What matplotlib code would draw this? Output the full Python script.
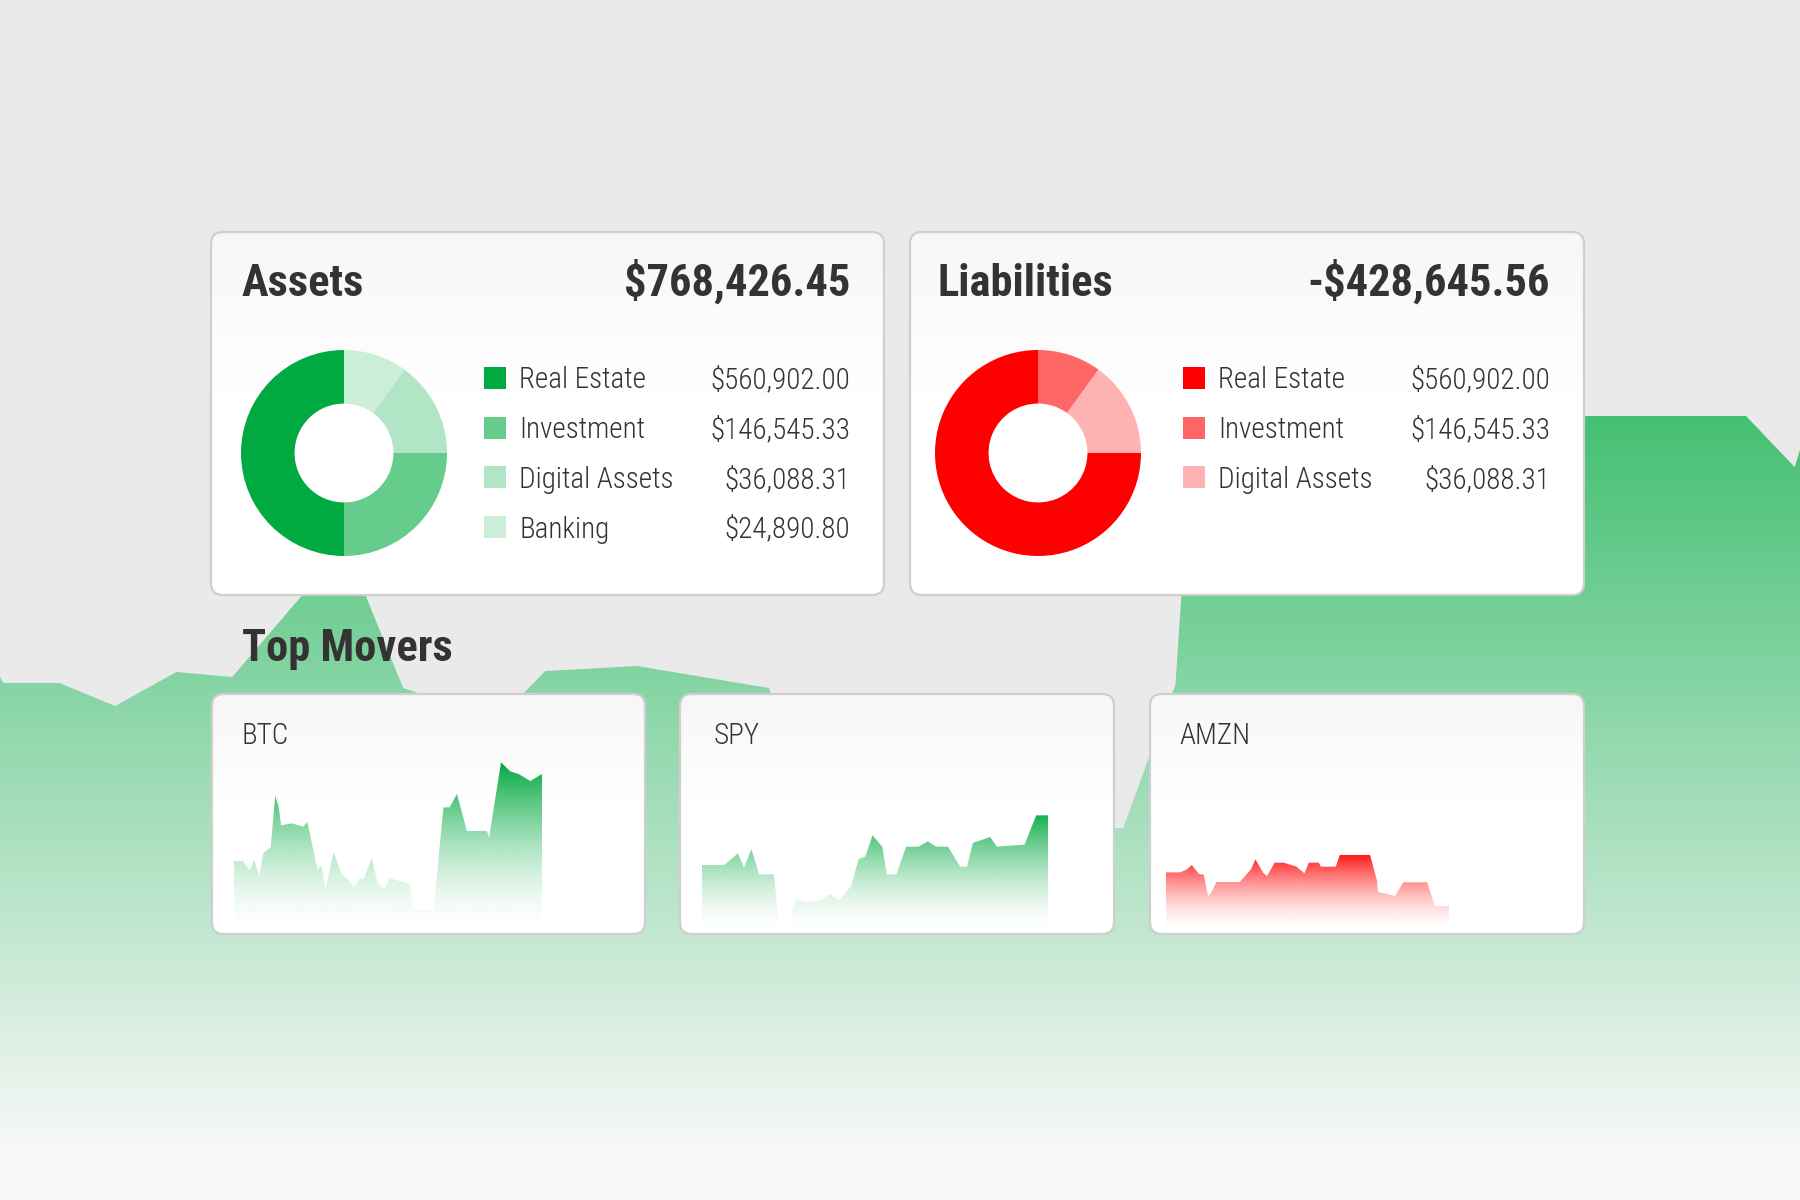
import numpy as np
import matplotlib
matplotlib.use("Agg")
import matplotlib.pyplot as plt
from matplotlib.patches import FancyBboxPatch, Rectangle
from matplotlib.colors import to_rgb

plt.rcParams['font.family'] = ['Roboto Condensed', 'DejaVu Sans']

# ---- data ----
asset_total = "$768,426.45"
asset_labels = ["Real Estate", "Investment", "Digital Assets", "Banking"]
asset_amounts = ["$560,902.00", "$146,545.33", "$36,088.31", "$24,890.80"]
asset_share = [50, 25, 15, 10]
asset_colors = ["#00aa40", "#66cc8c", "#b2e5c5", "#cbeed9"]

liab_total = "-$428,645.56"
liab_labels = ["Real Estate", "Investment", "Digital Assets"]
liab_amounts = ["$560,902.00", "$146,545.33", "$36,088.31"]
liab_share = [75, 10, 15]
liab_colors = ["#ff0000", "#ff6666", "#ffb2b2"]

tickers = ["BTC", "SPY", "AMZN"]
btc_t = [0, 2.8, 5.2, 6.5, 8.2, 9.5, 11.9, 13.4, 14.5, 15.3, 18.7, 22.5, 23.8, 27.1, 28.4, 29.7,
         32.3, 35.0, 37.2, 39.0, 40.7, 42.0, 44.7, 46.7, 48.8, 50.7, 57.2, 57.9, 64.8, 68.0, 70.0,
         72.4, 75.6, 82.1, 82.8, 86.7, 89.7, 92.4, 96.2, 100]
btc_v = [207, 207, 178, 212, 162, 230, 248, 403, 370, 314, 320, 310, 325, 182, 192, 122,
         233, 166, 150, 128, 155, 152, 215, 140, 122, 155, 138, 60, 60, 368, 368,
         408, 297, 297, 277, 503, 476, 468, 447, 468]
spy_t = [0, 6.4, 10.4, 12.1, 14.3, 16.5, 20.8, 22.3, 25.7, 26.9, 29.8, 34.4, 36.8, 39.6, 43.0,
         45.3, 47.2, 49.3, 52.1, 53.4, 56.2, 59.0, 62.6, 65.3, 67.6, 71.1, 74.6, 76.6, 78.3,
         83.3, 85.2, 93.2, 96.6, 100]
spy_v = [195, 195, 230, 187, 242, 167, 167, 5, 33, 94, 84, 89, 107, 90, 130,
         213, 220, 284, 250, 167, 167, 250, 250, 266, 250, 250, 190, 190, 261,
         279, 250, 256, 344, 344]
amzn_t = [0, 5.1, 7.4, 9.1, 11.7, 13.3, 14.9, 16.0, 17.8, 26.1, 30.1, 31.6, 34.3, 35.7, 38.4,
          41.6, 46.1, 48.9, 50.5, 54.0, 54.7, 60.0, 61.4, 72.1, 74.6, 74.9, 81.0, 83.8, 92.3,
          95.0, 100]
amzn_v = [173, 173, 182, 195, 168, 166, 102, 113, 144, 144, 183, 212, 172, 162, 202,
          202, 190, 170, 202, 202, 190, 190, 225, 225, 147, 114, 102, 143, 143,
          72, 72]
spark_t = [btc_t, spy_t, amzn_t]
spark_v = [btc_v, spy_v, amzn_v]
spark_colors = ["#00aa40", "#14b050", "#ff1a1a"]

# background net-worth curve
bg_t = [0, 0.2, 3.3, 6.4, 9.8, 12.9, 16.8, 17.8, 19.4, 20.3, 22.4, 23.2, 26.1, 29.1, 30.3,
        35.4, 42.7, 44.4, 55.6, 61.9, 62.4, 65.3, 66.3, 97.0, 99.7, 100]
bg_v = [523, 517, 517, 494, 528, 523, 605, 640, 640, 605, 512, 507, 460, 507, 529,
        534, 512, 440, 410, 372, 372, 515, 784, 784, 733, 750]

W, H = 1800, 1200
TXT = "#333333"
fig = plt.figure(figsize=(18, 12), dpi=100)
fig.patch.set_facecolor("#eaeaea")


def px_axes(x0, y0, x1, y1, z):
    ax = fig.add_axes([x0 / W, 1 - y1 / H, (x1 - x0) / W, (y1 - y0) / H], zorder=z)
    ax.set_axis_off()
    ax.patch.set_visible(False)
    return ax


def gradient_fill(ax, t, v, color, top, bottom_color=None, lo=0.0, power=1.0):
    poly = ax.fill(list(t) + [t[-1], t[0]], list(v) + [0, 0], color="none", lw=0)[0]
    n = 400
    frac = np.linspace(0, 1, n)[:, None]
    g = np.clip((frac * top - lo) / (top - lo), 0, 1) ** power
    rgb = np.array(to_rgb(color))
    if bottom_color is None:
        img = np.zeros((n, 1, 4))
        img[..., :3] = rgb
        img[..., 3] = g
    else:
        b = np.array(to_rgb(bottom_color))
        img = b + g[..., None] * (rgb - b)
    im = ax.imshow(img, extent=[min(t), max(t), 0, top], origin="lower",
                   aspect="auto", interpolation="bilinear")
    im.set_clip_path(poly)


# ---- background area chart ----
bg = px_axes(0, 0, W, H, 0)
gradient_fill(bg, bg_t, bg_v, "#44c073", max(bg_v), bottom_color="#f8f8f8", lo=50)
bg.set_xlim(0, 100)
bg.set_ylim(0, 1200)

# ---- overlay for cards and text ----
ov = px_axes(0, 0, W, H, 1)


def card(x0, y0, x1, y1):
    box = FancyBboxPatch((x0, y0), x1 - x0, y1 - y0, boxstyle="round,pad=0,rounding_size=12",
                         fc="white", ec="none", zorder=2)
    ov.add_patch(box)
    g = np.linspace(0, 1, 200)[:, None]
    shade = 0.968 + 0.032 * np.clip(g / 0.45, 0, 1)
    im = ov.imshow(np.dstack([shade] * 3), extent=[x0, x1, y1, y0], aspect="auto",
                   zorder=2.1, interpolation="bilinear")
    im.set_clip_path(box)
    ov.add_patch(FancyBboxPatch((x0, y0), x1 - x0, y1 - y0, boxstyle="round,pad=0,rounding_size=12",
                                fc="none", ec="#cfcfcf", lw=1.6, zorder=2.2))


def summary(x0, x1, tx, cx, title, total, labels, amounts, colors, share, start, reverse):
    card(x0, 232, x1, 595)
    ov.text(tx, 296, title, fontsize=32, weight="bold", color=TXT, va="baseline", zorder=3)
    ov.text(x1 - 34, 296, total, fontsize=32, weight="bold", color=TXT, va="baseline",
            ha="right", zorder=3)
    for i, (lab, amt, col) in enumerate(zip(labels, amounts, colors)):
        yc = 378 + i * 49.7
        ov.add_patch(Rectangle((x0 + 273, yc - 11), 22, 22, fc=col, ec="none", zorder=3))
        ov.text(x0 + 308, yc + 10.5, lab, fontsize=21, weight=300, color=TXT, va="baseline", zorder=3)
        ov.text(x1 - 34, yc + 10.5, amt, fontsize=21, weight=300, color=TXT, va="baseline",
                ha="right", zorder=3)
    r = 103
    dax = px_axes(cx - r, 453 - r, cx + r, 453 + r, 2)
    vals, cols = (share[::-1], colors[::-1]) if reverse else (share, colors)
    dax.pie(vals, colors=cols, startangle=start, counterclock=False, radius=1,
            wedgeprops=dict(width=0.52, linewidth=0))
    dax.set_xlim(-1, 1)
    dax.set_ylim(-1, 1)


summary(211, 884, 242, 344, "Assets", asset_total, asset_labels, asset_amounts, asset_colors,
        asset_share, 90, True)
summary(910, 1584, 937, 1038, "Liabilities", liab_total, liab_labels, liab_amounts, liab_colors,
        liab_share, 0, False)

ov.text(242, 661, "Top Movers", fontsize=32, weight="bold", color=TXT, va="baseline", zorder=3)

card_x = [(212, 645), (680, 1114), (1150, 1584)]
label_x = [242, 714, 1179]
spark_x = [(234, 542), (702, 1048), (1166, 1449)]
for name, (x0, x1), lx, (s0, s1), t, v, col in zip(tickers, card_x, label_x, spark_x,
                                                     spark_t, spark_v, spark_colors):
    card(x0, 694, x1, 934)
    ov.text(lx, 744, name, fontsize=21, weight=300, color=TXT, va="baseline", zorder=3)
    sax = px_axes(s0, 750, s1, 930, 2)
    gradient_fill(sax, t, v, col, max(v), power=1.6)
    sax.set_xlim(0, 100)
    sax.set_ylim(0, 540)

ov.set_xlim(0, W)
ov.set_ylim(H, 0)

fig.savefig("out.png", dpi=100, facecolor=fig.get_facecolor())
